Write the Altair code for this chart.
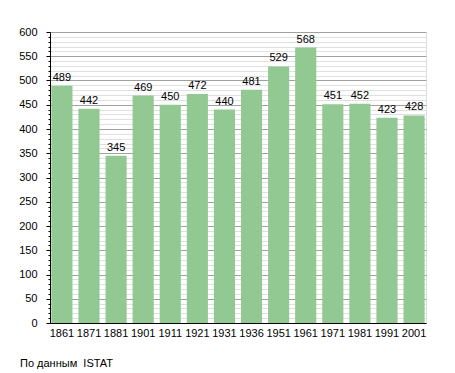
import altair as alt
import pandas as pd

years = ["1861", "1871", "1881", "1901", "1911", "1921", "1931", "1936",
         "1951", "1961", "1971", "1981", "1991", "2001"]
population = [489, 442, 345, 469, 450, 472, 440, 481, 529, 568, 451, 452, 423, 428]
y_ticks = list(range(0, 601, 10))

df = pd.DataFrame({"year": years, "pop": population})

FONT = "Liberation Sans"

x = alt.X("year:N", sort=years, title=None,
          scale=alt.Scale(paddingInner=0.22, paddingOuter=0.05),
          axis=alt.Axis(labelAngle=0, ticks=False, domainColor="black",
                        labelColor="black", labelFontSize=11, labelFont=FONT,
                        labelPadding=4, grid=False))
y = alt.Y("pop:Q", title=None,
          scale=alt.Scale(domain=[0, 600], nice=False),
          axis=alt.Axis(values=y_ticks,
                        labelExpr="datum.value % 50 === 0 ? datum.label : ''",
                        labelOverlap=False,
                        grid=True,
                        gridColor=alt.condition("datum.value % 50 === 0",
                                                alt.value("#a0a0a0"), alt.value("#e0e0e0")),
                        tickSize=alt.condition("datum.value % 50 === 0",
                                               alt.value(4), alt.value(2)),
                        tickColor="black", domainColor="black",
                        labelColor="black", labelFontSize=11, labelFont=FONT,
                        labelPadding=9, labelFlush=False))

base = alt.Chart(df).encode(x=x, y=y)
bars = base.mark_bar(color="#92c992")
labels = base.mark_text(baseline="bottom", dy=-3, fontSize=11,
                        font=FONT, color="black").encode(text="pop:Q")

chart = (bars + labels).properties(
    width=376, height=291,
    autosize=alt.AutoSizeParams(type="none"),
    padding={"left": 42, "top": 24, "right": 20, "bottom": 50},
    title=alt.TitleParams("По данным\u00a0 ISTAT", orient="bottom", anchor="start",
                          frame="group", dx=-30, offset=20, fontSize=11, font=FONT,
                          fontWeight="normal", color="black"),
).configure_view(stroke=None).configure(background="white")

chart.save("out.html", embed_options={"renderer": "svg", "actions": False})
